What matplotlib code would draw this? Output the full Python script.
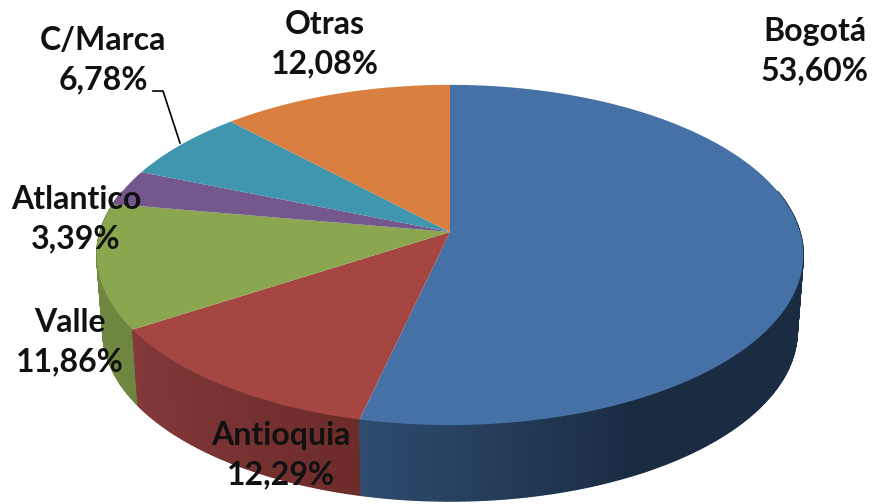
import numpy as np
import matplotlib
matplotlib.use("Agg")
import matplotlib.pyplot as plt
from matplotlib.colors import to_rgb

# datos
regiones = ["Bogotá", "Antioquia", "Valle", "Atlantico", "C/Marca", "Otras"]
valores = [53.60, 12.29, 11.86, 3.39, 6.78, 12.08]
etiquetas = ["53,60%", "12,29%", "11,86%", "3,39%", "6,78%", "12,08%"]
colores = ["#4571A6", "#A64643", "#8AA64F", "#73578D", "#4095AF", "#D98040"]
lado_claro = ["#2E4C70", "#84393A", "#718A42", "#5A4672", "#34798C", "#AE6930"]
lado_oscuro = ["#1A2C42", "#6C2C2A", "#6F8640", "#443558", "#285D6C", "#85501F"]

# posicion de los textos (x, y en pixeles)
pos_texto = [(815, 51), (281, 455), (70, 342), (76, 219), (103, 60), (325, 44)]

# geometria del pie en perspectiva
cx, cy = 450, 232
rx, ry = 350, 167
k = 0.135
alto = 76
encoge = 0.983


def punto(theta):
    p = 1 / (1 + k * np.cos(theta))
    return cx + rx * np.sin(theta) * p, cy - ry * np.cos(theta) * p


def mezcla(c1, c2, t):
    a, b = np.array(to_rgb(c1)), np.array(to_rgb(c2))
    return tuple(a + (b - a) * t)


fig = plt.figure(figsize=(8.74, 5.04), dpi=100)
ax = fig.add_axes([0, 0, 1, 1])
ax.set_xlim(0, 874)
ax.set_ylim(504, 0)
ax.axis("off")

acum = np.cumsum([0] + valores) / sum(valores) * 2 * np.pi

# lados
quads = []
for i in range(len(valores)):
    ts = np.linspace(acum[i], acum[i + 1], max(int(valores[i] * 6), 4))
    for a, b in zip(ts[:-1], ts[1:]):
        quads.append((np.cos((a + b) / 2), i, a, b))
quads.sort(key=lambda q: -q[0])
for c, i, a, b in quads:
    if c > 0.25:
        continue
    xa, ya = punto(a)
    xb, yb = punto(b)
    m = (a + b) / 2
    if i == 0:
        # el azul se oscurece rapido y luego queda plano
        t = np.clip((acum[1] - m) / np.radians(40), 0, 1)
    else:
        t = (m - acum[i]) / (acum[i + 1] - acum[i])
        t = 1 - t
    col = mezcla(lado_claro[i], lado_oscuro[i], t)
    xa2 = cx + (xa - cx) * encoge
    xb2 = cx + (xb - cx) * encoge
    ax.fill([xa, xb, xb2, xa2], [ya, yb, yb + alto, ya + alto], fc=col, ec=col, lw=1)

# caras de arriba
for i in range(len(valores)):
    ts = np.linspace(acum[i], acum[i + 1], 200)
    xs, ys = punto(ts)
    ax.fill(np.r_[cx, xs], np.r_[cy, ys], color=colores[i], lw=0)

# linea guia de C/Marca
ax.plot([153, 163, 180], [91, 91, 143], color="black", lw=1.2)

for i in range(len(valores)):
    x, y = pos_texto[i]
    ax.text(x, y, regiones[i] + "\n" + etiquetas[i], ha="center", va="center",
            fontsize=23, fontweight="bold", family="Lato", linespacing=1.45,
            color="#111111")

fig.savefig("out.png", dpi=100)
